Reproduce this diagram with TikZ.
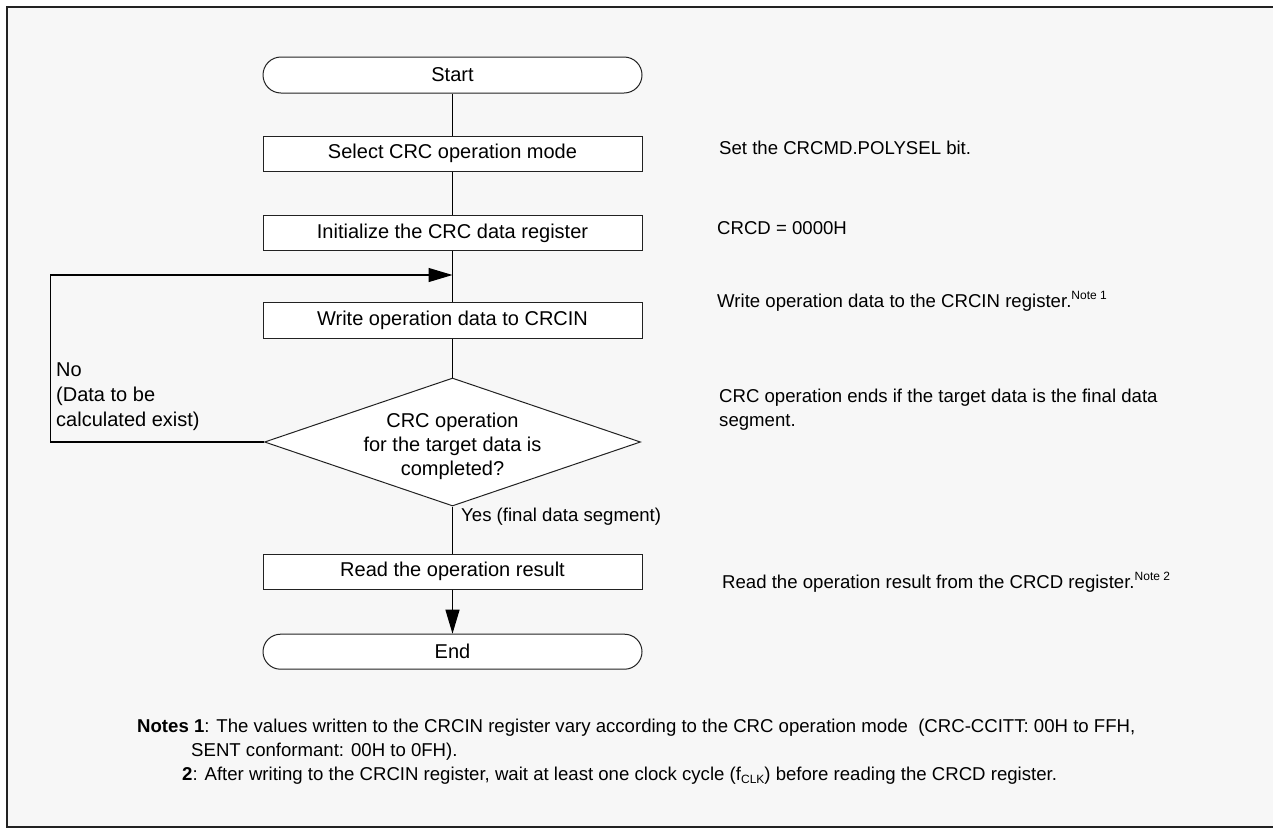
\documentclass[tikz,border=0pt]{standalone}
\usepackage{fontspec}
\setmainfont{Liberation Sans}
\usetikzlibrary{arrows.meta,shapes.geometric}

\definecolor{panel}{HTML}{F7F7F7}
\definecolor{rule}{HTML}{222222}

\newcommand{\notemark}[1]{\raisebox{7.5pt}{\fontsize{12}{12}\selectfont #1}}

\tikzset{
  procbox/.style={draw=rule, line width=1pt, fill=white,
    minimum width=379pt, minimum height=35pt, inner sep=0pt,
    font=\fontsize{20}{24}\selectfont},
  termbox/.style={procbox, rounded corners=17.5pt},
  flow/.style={line width=1.2pt, draw=black},
  arrowflow/.style={flow, -{Triangle[length=24pt,width=14pt]}},
  annot/.style={anchor=base west, inner sep=0pt, font=\fontsize{18.6}{22}\selectfont},
  flowlabel/.style={inner sep=0pt, font=\fontsize{20}{24}\selectfont},
}

\begin{document}
\begin{tikzpicture}[x=1pt,y=-1pt]
  \useasboundingbox (0,0) rectangle (1273,828);
  % page and panel frame
  \fill[white] (0,0) rectangle (1273,828);
  \fill[panel] (7,7) rectangle (1273,827);
  \draw[line width=1.5pt, rule] (1273,7) -- (7,7) -- (7,827) -- (1273,827);

  % flowchart nodes
  \node[termbox, minimum height=36pt, rounded corners=18pt] (start) at (452.5,75) {Start};
  \node[procbox] (sel)   at (452.5,153.5) {Select CRC operation mode};
  \node[procbox] (init)  at (452.5,233)   {Initialize the CRC data register};
  \node[procbox, minimum height=36pt] (write) at (452.5,320.3) {Write operation data to CRCIN};
  \node[diamond, draw=rule, line width=1pt, fill=white, aspect=2.94,
        minimum width=376pt, minimum height=128pt, inner sep=0pt] (dec) at (452.5,442) {};
  \node[flowlabel, align=center] (dectext) at (452.5,446)
        {CRC operation\\for the target data is\\completed?};
  \node[procbox] (read)  at (452.5,571.5) {Read the operation result};
  \node[termbox] (end)   at (452.5,651.7) {End};

  % helper points of the loop back
  \coordinate (merge) at (452.5,275);
  \coordinate (loopL) at (50.7,442);

  % connectors
  \draw[flow] (start.south) -- (sel.north);
  \draw[flow] (sel.south) -- (init.north);
  \draw[flow] (init.south) -- (write.north);
  \draw[flow] (write.south) -- (dec.north);
  \draw[flow] (dec.south) -- (read.north);
  \draw[arrowflow] (read.south) -- (end.north);
  \draw[arrowflow] (dec.west) -- (loopL) |- (merge);

  % branch labels
  \node[flowlabel, align=left, anchor=west, font=\fontsize{20}{25}\selectfont] (nolabel) at (56,396.7)
        {No\\(Data to be\\calculated exist)};
  \node[annot, anchor=west] (yeslabel) at (461,517) {Yes (final data segment)};

  % annotations on the right
  \node[annot] (a1) at (719,154.7) {Set the CRCMD.POLYSEL bit.};
  \node[annot] (a2) at (717,234.7) {CRCD = 0000H};
  \node[annot] (a3) at (717,307)   {Write operation data to the CRCIN register.\notemark{Note 1}};
  \node[annot] (a4) at (719,402)   {CRC operation ends if the target data is the final data};
  \node[annot] (a5) at (719,426)   {segment.};
  \node[annot] (a6) at (722,588.4) {Read the operation result from the CRCD register.\notemark{Note 2}};

  % notes
  \node[annot] (n1)  at (137,732) {\textbf{Notes 1}: The values written to the CRCIN register vary according to the CRC operation mode\ \ (CRC-CCITT: 00H to FFH,};
  \node[annot] (n1b) at (191,756) {SENT conformant: 00H to 0FH).};
  \node[annot] (n2)  at (182,780) {\textbf{2}: After writing to the CRCIN register, wait at least one clock cycle (f\raisebox{-3pt}{\fontsize{12}{12}\selectfont CLK}) before reading the CRCD register.};
\end{tikzpicture}
\end{document}
